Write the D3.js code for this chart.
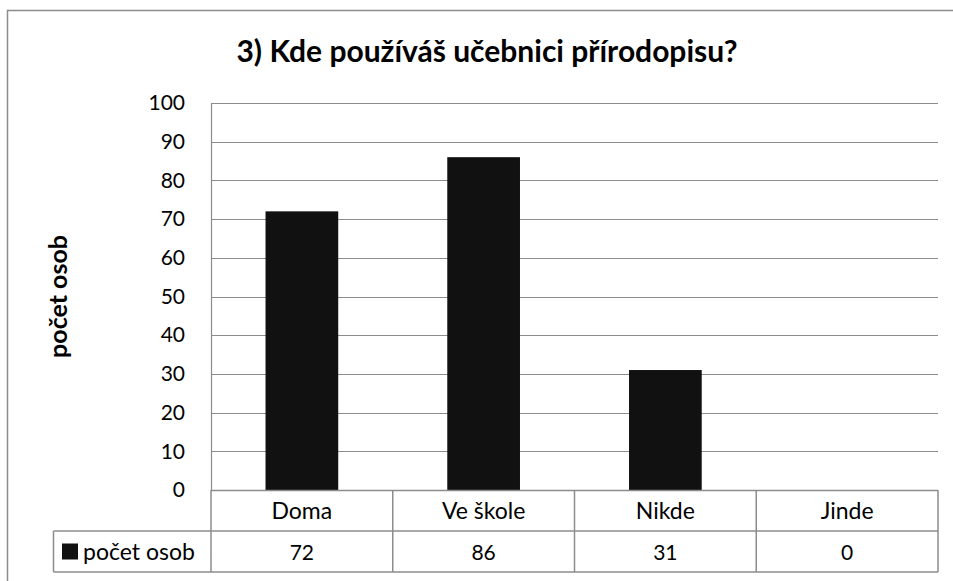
<!DOCTYPE html>
<html>
<head>
<meta charset="utf-8">
<script src="https://cdn.jsdelivr.net/npm/d3@7"></script>
<style>
  body { margin: 0; background: #fff; }
  text { font-family: Lato, "Open Sans", sans-serif; fill: #000; }
</style>
</head>
<body>
<div id="chart"></div>
<script>
var categories = ["Doma", "Ve škole", "Nikde", "Jinde"];
var values = [72, 86, 31, 0];
var seriesName = "počet osob";
var yTicks = [0, 10, 20, 30, 40, 50, 60, 70, 80, 90, 100];
var title = "3) Kde používáš učebnici přírodopisu?";

var W = 953, H = 581;
var margin = {top: 103, left: 211, right: 15, bottom: 91},
    width = W - margin.left - margin.right,
    height = H - margin.top - margin.bottom,
    rowH = 41;

var svg = d3.select("#chart").append("svg")
    .attr("width", W)
    .attr("height", H);

// outer chart border (only top and left visible)
svg.append("path")
    .attr("d", "M7.5," + H + "V10.5H" + W)
    .attr("fill", "none")
    .attr("stroke", "#8c8c8c")
    .attr("stroke-width", 1.5);

svg.append("text")
    .attr("x", 487)
    .attr("y", 62)
    .attr("text-anchor", "middle")
    .style("font-size", "30px")
    .style("font-weight", "bold")
    .text(title);

var x = d3.scaleBand().domain(categories).range([0, width]).paddingInner(0).paddingOuter(0);
var y = d3.scaleLinear().domain([0, 100]).range([height, 0]);

var g = svg.append("g")
    .attr("transform", "translate(" + margin.left + "," + margin.top + ")");

// gridlines
g.selectAll(".grid")
    .data(yTicks)
    .enter().append("line")
    .attr("class", "grid")
    .attr("x1", 0)
    .attr("x2", width)
    .attr("y1", function(d) { return Math.round(y(d)) + 0.5; })
    .attr("y2", function(d) { return Math.round(y(d)) + 0.5; })
    .attr("stroke", "#8c8c8c")
    .attr("stroke-width", 1.2);

var yAxis = d3.axisLeft(y).tickValues(yTicks).tickSize(0).tickPadding(26);
var ya = g.append("g").call(yAxis);
ya.select(".domain").attr("stroke", "#8c8c8c").attr("stroke-width", 1.2);
ya.selectAll("text")
    .style("font-size", "21px")
    .style("font-family", "Lato, 'Open Sans', sans-serif");

var bw = x.bandwidth() * 0.4;
g.selectAll(".bar")
    .data(values)
    .enter().append("rect")
    .attr("class", "bar")
    .attr("x", function(d, i) { return x(categories[i]) + (x.bandwidth() - bw) / 2; })
    .attr("y", function(d) { return y(d); })
    .attr("width", bw)
    .attr("height", function(d) { return height - y(d); })
    .attr("fill", "#111111");

// y axis title
svg.append("text")
    .attr("transform", "translate(67," + (margin.top + height / 2) + ") rotate(-90)")
    .attr("text-anchor", "middle")
    .style("font-size", "25px")
    .style("font-weight", "bold")
    .text(seriesName);

// data table
var t = svg.append("g")
    .attr("transform", "translate(" + margin.left + "," + (margin.top + height) + ")");
var tableLeft = 53.5 - margin.left;
var lineCol = "#8c8c8c";

function hline(y0, x0, x1) {
  t.append("line").attr("x1", x0).attr("x2", x1).attr("y1", y0).attr("y2", y0)
    .attr("stroke", lineCol).attr("stroke-width", 1.5);
}
hline(0.5, 0, width);
hline(rowH, tableLeft, width);
hline(2 * rowH, tableLeft, width);

t.append("line").attr("x1", tableLeft).attr("x2", tableLeft)
    .attr("y1", rowH).attr("y2", 2 * rowH)
    .attr("stroke", lineCol).attr("stroke-width", 1.5);

var cuts = categories.map(function(c) { return x(c); }).concat([width]);
t.selectAll(".vline")
    .data(cuts)
    .enter().append("line")
    .attr("x1", function(d) { return d; })
    .attr("x2", function(d) { return d; })
    .attr("y1", 0)
    .attr("y2", 2 * rowH)
    .attr("stroke", lineCol)
    .attr("stroke-width", 1.5);

t.selectAll(".cat")
    .data(categories)
    .enter().append("text")
    .attr("x", function(d) { return x(d) + x.bandwidth() / 2; })
    .attr("y", rowH / 2 + 8)
    .attr("text-anchor", "middle")
    .style("font-size", "23px")
    .text(function(d) { return d; });

t.selectAll(".val")
    .data(values)
    .enter().append("text")
    .attr("x", function(d, i) { return x(categories[i]) + x.bandwidth() / 2; })
    .attr("y", rowH * 1.5 + 8)
    .attr("text-anchor", "middle")
    .style("font-size", "21px")
    .text(function(d) { return d; });

// legend key in table
t.append("rect")
    .attr("x", 62 - margin.left)
    .attr("y", rowH * 1.5 - 8)
    .attr("width", 16)
    .attr("height", 16)
    .attr("fill", "#111111");
t.append("text")
    .attr("x", 83 - margin.left)
    .attr("y", rowH * 1.5 + 8)
    .style("font-size", "23px")
    .text(seriesName);
</script>
</body>
</html>
